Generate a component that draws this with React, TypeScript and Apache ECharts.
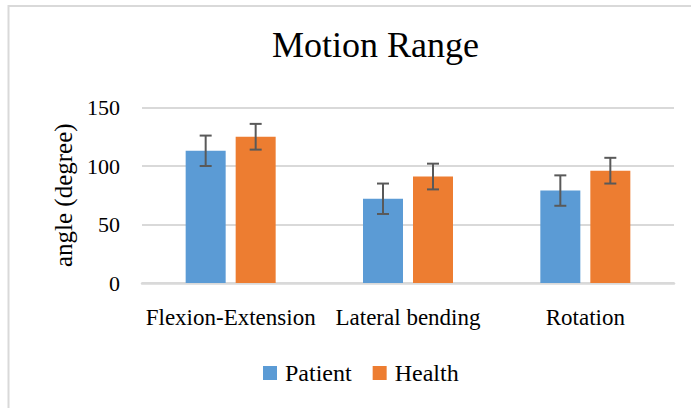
import React, { useEffect, useRef } from "react";
import * as echarts from "echarts";

const categories = ["Flexion-Extension", "Lateral bending", "Rotation"];
const patientValues = [113, 72, 79];
const patientErrors = [13, 13, 13];
const healthValues = [125, 91, 96];
const healthErrors = [11, 11, 11];
const yTicks = { min: 0, max: 150, interval: 50 };

const BLUE = "#5B9BD5";
const ORANGE = "#ED7D31";
const BAR_WIDTH = 40;
const BAR_GAP = 10;
const FONT = "Liberation Serif";

function errorSeries(name: string, values: number[], errors: number[], side: number) {
  const offset = ((BAR_WIDTH + BAR_GAP) / 2) * side;
  return {
    name,
    type: "custom",
    z: 10,
    silent: true,
    data: values.map((v, i) => [i, v, errors[i]]),
    renderItem: (params: any, api: any) => {
      const idx = api.value(0);
      const v = api.value(1);
      const e = api.value(2);
      const top = api.coord([idx, v + e]);
      const bot = api.coord([idx, v - e]);
      const x = top[0] + offset;
      const half = 6;
      const style = { stroke: "#595959", lineWidth: 2 };
      return {
        type: "group",
        children: [
          { type: "line", shape: { x1: x, y1: top[1], x2: x, y2: bot[1] }, style },
          { type: "line", shape: { x1: x - half, y1: top[1], x2: x + half, y2: top[1] }, style },
          { type: "line", shape: { x1: x - half, y1: bot[1], x2: x + half, y2: bot[1] }, style },
        ],
      };
    },
  };
}

const txt = (size: number) => ({
  fontFamily: FONT,
  fontSize: size,
  fontWeight: "normal" as const,
  fontStyle: "normal" as const,
  color: "#000",
});

export default function App() {
  const ref = useRef<HTMLDivElement>(null);
  useEffect(() => {
    if (!ref.current) return;
    const chart = echarts.init(ref.current, null, { renderer: "svg" });
    chart.setOption({
      animation: false,
      backgroundColor: "#ffffff",
      textStyle: { fontFamily: FONT },
      graphic: [
        {
          type: "rect",
          shape: { x: 8.5, y: 6, width: 720, height: 440 },
          style: { fill: "none", stroke: "#d9d9d9", lineWidth: 2 },
          silent: true,
        },
      ],
      title: {
        text: "Motion Range",
        left: 272,
        top: 27,
        padding: 0,
        textStyle: txt(36),
      },
      legend: {
        data: ["Patient", "Health"],
        left: 263,
        top: 361,
        padding: 0,
        itemWidth: 14,
        itemHeight: 14,
        itemGap: 21,
        icon: "rect",
        textStyle: { ...txt(24), padding: [0, 0, 0, 3] },
      },
      grid: { left: 142, right: 17, top: 107.5, bottom: 125, containLabel: false },
      xAxis: {
        type: "category",
        data: categories,
        axisLine: { show: true, lineStyle: { color: "#d9d9d9", width: 2.5 } },
        axisTick: { show: false },
        axisLabel: { ...txt(23), margin: 23, interval: 0 },
      },
      yAxis: {
        type: "value",
        min: yTicks.min,
        max: yTicks.max,
        interval: yTicks.interval,
        name: "angle (degree)",
        nameLocation: "middle",
        nameGap: 57,
        nameTextStyle: txt(25),
        axisLine: { show: false },
        axisTick: { show: false },
        axisLabel: { ...txt(22), margin: 22 },
        splitLine: { lineStyle: { color: "#d9d9d9", width: 2 } },
      },
      series: [
        {
          name: "Patient",
          type: "bar",
          data: patientValues,
          barWidth: BAR_WIDTH,
          barGap: `${(BAR_GAP / BAR_WIDTH) * 100}%`,
          itemStyle: { color: BLUE },
        },
        {
          name: "Health",
          type: "bar",
          data: healthValues,
          barWidth: BAR_WIDTH,
          barGap: `${(BAR_GAP / BAR_WIDTH) * 100}%`,
          itemStyle: { color: ORANGE },
        },
        errorSeries("Patient error", patientValues, patientErrors, -1),
        errorSeries("Health error", healthValues, healthErrors, 1),
      ],
    });
    return () => chart.dispose();
  }, []);
  return (
    <div
      ref={ref}
      style={{ position: "absolute", left: 0, top: 0, width: 691, height: 408 }}
    />
  );
}
